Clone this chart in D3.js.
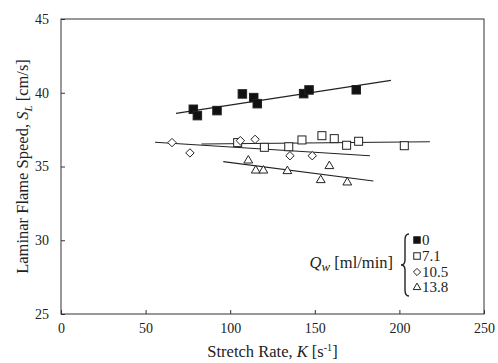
<!DOCTYPE html>
<html>
<head>
<meta charset="utf-8">
<script src="https://cdn.jsdelivr.net/npm/d3@7"></script>
<style>
  body { margin: 0; background: #fff; }
  svg text { font-family: "Liberation Serif", "Times New Roman", serif; fill: #222; }
</style>
</head>
<body>
<script>
// values
var xTicks = [0, 50, 100, 150, 200, 250];
var yTicks = [25, 30, 35, 40, 45];

var k0 = [78.2, 80.6, 92.2, 107.2, 113.9, 116.0, 143.4, 146.6, 174.5];
var s0 = [38.88, 38.45, 38.79, 39.92, 39.67, 39.26, 39.94, 40.19, 40.20];
var fitK0 = [68, 195], fitS0 = [38.6, 40.84];

var k71 = [104.4, 120.2, 134.6, 142.4, 154.2, 161.5, 168.8, 175.9, 202.9];
var s71 = [36.62, 36.30, 36.34, 36.80, 37.09, 36.89, 36.44, 36.71, 36.41];
var fitK71 = [83, 218], fitS71 = [36.53, 36.68];

var k105 = [65.6, 76.2, 106.0, 114.7, 135.3, 148.5];
var s105 = [36.62, 35.92, 36.75, 36.84, 35.73, 35.73];
var fitK105 = [55.6, 182.6], fitS105 = [36.64, 35.73];

var k138 = [110.7, 115.1, 119.6, 133.8, 153.5, 158.6, 169.2];
var s138 = [35.44, 34.76, 34.76, 34.72, 34.11, 35.06, 33.95];
var fitK138 = [95.9, 184.6], fitS138 = [35.33, 34.02];

var legendLabels = ["0", "7.1", "10.5", "13.8"];

var W = 498, H = 363;
var pL = 61, pR = 484, pT = 19, pB = 314;
var serif = '"Liberation Serif", "Times New Roman", serif';

var svg = d3.select("body").append("svg")
  .attr("width", W).attr("height", H);

var x = d3.scaleLinear().domain([0, 250]).range([pL, pR]);
var y = d3.scaleLinear().domain([25, 45]).range([pB, pT]);

// marker drawers
function square(filled, side) {
  return function(g) {
    g.append("rect")
      .attr("x", -side / 2).attr("y", -side / 2)
      .attr("width", side).attr("height", side)
      .attr("fill", filled ? "#111" : "#fff")
      .attr("stroke", "#222").attr("stroke-width", 1);
  };
}
function diamond(r) {
  return function(g) {
    g.append("path")
      .attr("d", "M0," + (-r) + "L" + r + ",0L0," + r + "L" + (-r) + ",0Z")
      .attr("fill", "#fff").attr("stroke", "#222").attr("stroke-width", 1);
  };
}
function triangle(r) {
  return function(g) {
    var h = r * 1.7;
    g.append("path")
      .attr("d", "M0," + (-h * 0.6) + "L" + r + "," + (h * 0.4) + "L" + (-r) + "," + (h * 0.4) + "Z")
      .attr("fill", "#fff").attr("stroke", "#222").attr("stroke-width", 1);
  };
}

var series = [
  {k: k0, s: s0, fk: fitK0, fs: fitS0, mark: square(true, 8.5), lmark: square(true, 6.5)},
  {k: k71, s: s71, fk: fitK71, fs: fitS71, mark: square(false, 8), lmark: square(false, 6.5)},
  {k: k105, s: s105, fk: fitK105, fs: fitS105, mark: diamond(4.2), lmark: diamond(3.6)},
  {k: k138, s: s138, fk: fitK138, fs: fitS138, mark: triangle(4.4), lmark: triangle(3.8)}
];

// frame
svg.append("rect")
  .attr("x", pL).attr("y", pT)
  .attr("width", pR - pL).attr("height", pB - pT)
  .attr("fill", "none").attr("stroke", "#333").attr("stroke-width", 1);

var xAxis = d3.axisBottom(x).tickValues(xTicks).tickSizeInner(-4).tickSizeOuter(0).tickPadding(9);
var yAxis = d3.axisLeft(y).tickValues(yTicks).tickSizeInner(-4).tickSizeOuter(0).tickPadding(12);

var gx = svg.append("g").attr("transform", "translate(0," + pB + ")").call(xAxis);
var gy = svg.append("g").attr("transform", "translate(" + pL + ",0)").call(yAxis);
[gx, gy].forEach(function(g) {
  g.attr("font-family", serif);
  g.select(".domain").remove();
  g.selectAll("line").attr("stroke", "#333");
  g.selectAll("text")
    .style("font-family", serif)
    .style("font-size", "14px").attr("fill", "#222");
});

// fit lines then markers
series.forEach(function(d) {
  var line = d3.line()
    .x(function(p) { return x(p[0]); })
    .y(function(p) { return y(p[1]); });
  svg.append("path")
    .attr("d", line(d3.zip(d.fk, d.fs)))
    .attr("fill", "none").attr("stroke", "#222").attr("stroke-width", 1.1);
});
series.forEach(function(d) {
  d3.zip(d.k, d.s).forEach(function(p) {
    svg.append("g")
      .attr("transform", "translate(" + x(p[0]) + "," + y(p[1]) + ")")
      .call(d.mark);
  });
});

// axis titles
var xt = svg.append("text")
  .attr("x", (pL + pR) / 2).attr("y", 357)
  .attr("text-anchor", "middle").style("font-size", "16.5px");
xt.append("tspan").text("Stretch Rate, ");
xt.append("tspan").style("font-style", "italic").text("K");
xt.append("tspan").text(" [s");
xt.append("tspan").attr("dy", -6).style("font-size", "10px").text("-1");
xt.append("tspan").attr("dy", 6).text("]");

var yt = svg.append("text")
  .attr("transform", "translate(28," + ((pT + pB) / 2) + ") rotate(-90)")
  .attr("text-anchor", "middle").style("font-size", "16.5px");
yt.append("tspan").text("Laminar Flame Speed, ");
yt.append("tspan").style("font-style", "italic").text("S");
yt.append("tspan").attr("dy", 4).style("font-style", "italic").style("font-size", "11px").text("L");
yt.append("tspan").attr("dy", -4).text(" [cm/s]");

// legend
var qt = svg.append("text")
  .attr("x", 393).attr("y", 268)
  .attr("text-anchor", "end").style("font-size", "16.5px");
qt.append("tspan").style("font-style", "italic").text("Q");
qt.append("tspan").attr("dy", 3).style("font-style", "italic").style("font-size", "13px").text("w");
qt.append("tspan").attr("dy", -3).text(" [ml/min]");

// curly brace
var bx = 405, by0 = 234, by1 = 296, bm = (by0 + by1) / 2;
svg.append("path")
  .attr("d",
    "M" + (bx + 4) + "," + by0 +
    "Q" + bx + "," + by0 + " " + bx + "," + (by0 + 6) +
    "L" + bx + "," + (bm - 5) +
    "Q" + bx + "," + bm + " " + (bx - 4) + "," + bm +
    "Q" + bx + "," + bm + " " + bx + "," + (bm + 5) +
    "L" + bx + "," + (by1 - 6) +
    "Q" + bx + "," + by1 + " " + (bx + 4) + "," + by1)
  .attr("fill", "none").attr("stroke", "#222").attr("stroke-width", 1.4);

var legRows = [240, 256, 272, 287];
legendLabels.forEach(function(lbl, i) {
  svg.append("g")
    .attr("transform", "translate(417," + legRows[i] + ")")
    .call(series[i].lmark);
  svg.append("text")
    .attr("x", 422).attr("y", legRows[i] + 5)
    .style("font-size", "15px").text(lbl);
});
</script>
</body>
</html>
